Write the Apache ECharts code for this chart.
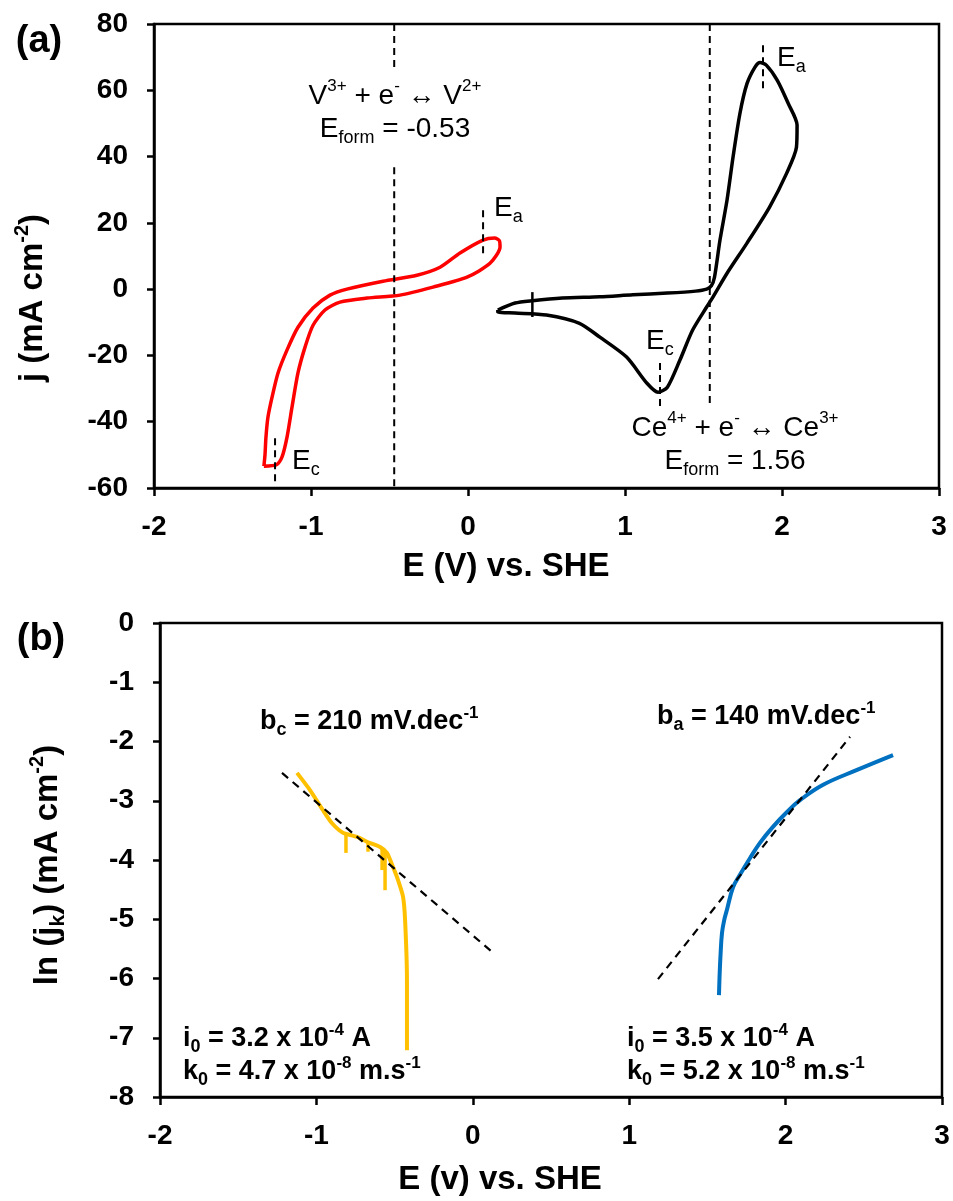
<!DOCTYPE html>
<html><head><meta charset="utf-8">
<script src="https://cdn.jsdelivr.net/npm/echarts@6/dist/echarts.min.js"></script>
<style>html,body{margin:0;padding:0;background:#fff}#c{width:953px;height:1201px}</style>
</head><body><div id="c"></div>
<script>
// ---------- data ----------
const xTicks = [-2, -1, 0, 1, 2, 3];
const yTicksA = [-60, -40, -20, 0, 20, 40, 60, 80];
const yTicksB = [-8, -7, -6, -5, -4, -3, -2, -1, 0];

// (a) V3+/V2+ cyclic voltammogram (E vs SHE, j mA cm-2)
const vCV = [[-1.300,-53.4],[-1.293,-50],[-1.287,-44.7],[-1.274,-38.6],[-1.248,-32.6],[-1.210,-25.3],[-1.153,-18.4],[-1.083,-11.5],[-0.987,-5.7],[-0.879,-1.8],[-0.771,0.0],[-0.541,2.4],[-0.325,4.2],[-0.178,6.6],[-0.051,10.9],[0.096,14.8],[0.170,15.4],[0.200,14.6],[0.204,12.7],[0.140,7.8],[-0.006,3.6],[-0.223,0.6],[-0.433,-1.8],[-0.643,-2.7],[-0.815,-3.9],[-0.911,-6.3],[-0.987,-10.9],[-1.038,-17.5],[-1.083,-25.3],[-1.121,-35.6],[-1.153,-44.7],[-1.185,-50.7],[-1.220,-53.0],[-1.300,-53.4]];
// (a) Ce4+/Ce3+ cyclic voltammogram
const ceCV = [[0.19,-6.3],[0.30,-4.2],[0.41,-3.5],[0.60,-2.7],[0.84,-2.3],[1.05,-1.7],[1.27,-1.2],[1.45,-0.6],[1.52,0.0],[1.55,1.0],[1.57,3.6],[1.605,14.8],[1.65,26.9],[1.688,39.8],[1.732,53],[1.777,62],[1.828,67],[1.86,68.4],[1.90,67.6],[1.97,63],[2.04,56],[2.096,49.5],[2.092,42.8],[2.03,35],[1.92,24.7],[1.777,13.9],[1.65,4.8],[1.56,-2.4],[1.52,-5.4],[1.43,-12.4],[1.35,-21.4],[1.27,-29.6],[1.21,-31.1],[1.14,-28.4],[1.01,-20.5],[0.84,-14.5],[0.71,-10.3],[0.50,-7.8],[0.30,-7.2],[0.19,-6.9],[0.19,-6.3]];
const ceSpike = [[0.41,-0.9],[0.41,-8.4]];
// formal potential markers and peak markers
const vFormA = [[-0.47,80],[-0.47,66]];
const vFormB = [[-0.47,36.8],[-0.47,-60]];
const ceForm = [[1.54,80],[1.54,-34.4]];
const peakMarks = [
  [[0.096,23.8],[0.096,10.3]],
  [[1.879,73.6],[1.879,60]],
  [[1.223,-22.3],[1.223,-35.9]],
  [[-1.229,-45],[-1.229,-58.5]]
];

// (b) Tafel plots ln(jk)
const vTafel = [[-1.124,-2.53],[-1.041,-2.82],[-0.958,-3.16],[-0.900,-3.38],[-0.830,-3.54],[-0.740,-3.61],[-0.670,-3.70],[-0.593,-3.78],[-0.549,-3.88],[-0.510,-4.12],[-0.478,-4.34],[-0.446,-4.62],[-0.433,-5.01],[-0.421,-6.03],[-0.421,-7.21]];
const vTafelSpikes = [
  [[-0.811,-3.54],[-0.811,-3.88]],
  [[-0.670,-3.70],[-0.670,-3.86]],
  [[-0.580,-3.78],[-0.580,-4.17]],
  [[-0.561,-3.85],[-0.561,-4.51]]
];
const ceTafel = [[1.574,-6.28],[1.578,-5.95],[1.584,-5.60],[1.593,-5.24],[1.607,-5.02],[1.625,-4.84],[1.664,-4.46],[1.708,-4.25],[1.772,-3.97],[1.836,-3.71],[1.919,-3.44],[2.009,-3.19],[2.092,-2.99],[2.240,-2.73],[2.457,-2.48],[2.687,-2.23]];
const fitCath = [[-1.22,-2.53],[0.123,-5.55]];
const fitAnod = [[1.184,-6.01],[2.412,-1.92]];

// ---------- chart ----------
const FF = '"Liberation Sans", Arial, sans-serif';
const chart = echarts.init(document.getElementById('c'));

function axisX(gi) {
  return {
    type: 'value', gridIndex: gi, min: xTicks[0], max: xTicks[xTicks.length - 1], interval: xTicks[1] - xTicks[0],
    axisLine: { show: true, onZero: false, lineStyle: { color: '#000', width: 2.5 } },
    axisTick: { show: true, inside: false, length: 8, lineStyle: { color: '#000', width: 2.5 } },
    axisLabel: { color: '#000', fontFamily: FF, fontWeight: 'bold', fontSize: 28, margin: 25 },
    splitLine: { show: false }
  };
}
function axisY(gi, ticks) {
  return {
    type: 'value', gridIndex: gi, min: ticks[0], max: ticks[ticks.length - 1], interval: ticks[1] - ticks[0],
    axisLine: { show: true, onZero: false, lineStyle: { color: '#000', width: 2.5 } },
    axisTick: { show: true, inside: false, length: 7, lineStyle: { color: '#000', width: 2.5 } },
    axisLabel: { color: '#000', fontFamily: FF, fontWeight: 'bold', fontSize: 28, margin: 26 },
    splitLine: { show: false }
  };
}
function line(data, gi, color, width, dash, smooth, z) {
  return {
    type: 'line', xAxisIndex: gi, yAxisIndex: gi, data: data, showSymbol: false, symbol: 'none',
    smooth: smooth || false, clip: false, z: z || 2, silent: true,
    lineStyle: { color: color, width: width, type: dash || 'solid', cap: 'butt', join: 'round' }
  };
}

const series = [
  line(vCV, 0, '#FF0000', 3.5, null, 0.25, 3),
  line(ceCV, 0, '#000000', 3.5, null, 0.25, 3),
  line(ceSpike, 0, '#000000', 2.5, null, false, 3),
  line(vFormA, 0, '#000', 2, [7, 5], false, 4),
  line(vFormB, 0, '#000', 2, [7, 5], false, 4),
  line(ceForm, 0, '#000', 2, [7, 5], false, 4)
];
peakMarks.forEach(m => series.push(line(m, 0, '#000', 2, [7, 5], false, 4)));
series.push(line(vTafel, 1, '#FFC000', 4, null, 0.2, 3));
vTafelSpikes.forEach(s => series.push(line(s, 1, '#FFC000', 3.5, null, false, 3)));
series.push(line(ceTafel, 1, '#0070C0', 4, null, 0.4, 3));
series.push(line(fitCath, 1, '#000', 2.2, [8, 6], false, 4));
series.push(line(fitAnod, 1, '#000', 2.2, [8, 6], false, 4));

// rich text styles
function richSet(size, weight) {
  return {
    m: { fontSize: size, fontFamily: FF, fontWeight: weight, fill: '#000', color: '#000', lineHeight: size + 8 },
    sup: { fontSize: Math.round(size * 0.62), fontFamily: FF, fontWeight: weight, fill: '#000', color: '#000', verticalAlign: 'top', lineHeight: Math.round(size * 0.62) },
    sub: { fontSize: Math.round(size * 0.65), fontFamily: FF, fontWeight: weight, fill: '#000', color: '#000', verticalAlign: 'bottom', lineHeight: Math.round(size * 0.65) }
  };
}
function txt(x, y, text, size, weight, align, rot) {
  return {
    type: 'text', x: x, y: y, rotation: rot || 0, silent: true, z: 10,
    style: { text: text, rich: richSet(size, weight), align: align || 'left', verticalAlign: 'middle', fill: '#000' }
  };
}
const A = 28, B = 27, T = 33;
const graphics = [
  txt(39, 42, '{m|(a)}', 38, 'bold', 'center'),
  txt(41, 640, '{m|(b)}', 38, 'bold', 'center'),
  txt(395, 96, '{m|V}{sup|3+}{m| + e}{sup|-}{m| ↔ V}{sup|2+}', A, 'normal', 'center'),
  txt(395, 129, '{m|E}{sub|form}{m| = -0.53}', A, 'normal', 'center'),
  txt(494, 208, '{m|E}{sub|a}', A, 'normal', 'left'),
  txt(777, 58, '{m|E}{sub|a}', A, 'normal', 'left'),
  txt(646, 341, '{m|E}{sub|c}', A, 'normal', 'left'),
  txt(292, 461, '{m|E}{sub|c}', A, 'normal', 'left'),
  txt(735, 428, '{m|Ce}{sup|4+}{m| + e}{sup|-}{m| ↔ Ce}{sup|3+}', A, 'normal', 'center'),
  txt(735, 461, '{m|E}{sub|form}{m| = 1.56}', A, 'normal', 'center'),
  txt(506, 567, '{m|E (V) vs. SHE}', T, 'bold', 'center'),
  txt(33, 298, '{m|j (mA cm}{sup|-2}{m|)}', T, 'bold', 'center', Math.PI / 2),
  txt(260, 722, '{m|b}{sub|c}{m| = 210 mV.dec}{sup|-1}', B, 'bold', 'left'),
  txt(657, 717, '{m|b}{sub|a}{m| = 140 mV.dec}{sup|-1}', B, 'bold', 'left'),
  txt(183, 1039, '{m|i}{sub|0}{m| = 3.2 x 10}{sup|-4}{m| A}', B, 'bold', 'left'),
  txt(183, 1072, '{m|k}{sub|0}{m| = 4.7 x 10}{sup|-8}{m| m.s}{sup|-1}', B, 'bold', 'left'),
  txt(627, 1039, '{m|i}{sub|0}{m| = 3.5 x 10}{sup|-4}{m| A}', B, 'bold', 'left'),
  txt(627, 1072, '{m|k}{sub|0}{m| = 5.2 x 10}{sup|-8}{m| m.s}{sup|-1}', B, 'bold', 'left'),
  txt(500, 1180, '{m|E (v) vs. SHE}', T, 'bold', 'center'),
  txt(48, 865, '{m|ln (j}{sub|k}{m|) (mA cm}{sup|-2}{m|)}', T, 'bold', 'center', Math.PI / 2)
];

chart.setOption({
  animation: false,
  backgroundColor: '#fff',
  grid: [
    { left: 154, top: 24, width: 785, height: 464, show: true, borderColor: '#000', borderWidth: 2.5, backgroundColor: 'transparent' },
    { left: 160, top: 623, width: 782, height: 474, show: true, borderColor: '#000', borderWidth: 2.5, backgroundColor: 'transparent' }
  ],
  xAxis: [axisX(0), axisX(1)],
  yAxis: [axisY(0, yTicksA), axisY(1, yTicksB)],
  series: series,
  graphic: graphics
});
</script></body></html>
